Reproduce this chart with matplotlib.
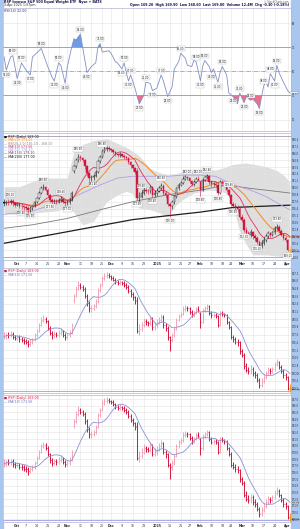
import matplotlib
matplotlib.use("Agg")
import matplotlib.pyplot as plt
import numpy as np
import pandas as pd
from matplotlib.patches import Rectangle
from matplotlib.ticker import MultipleLocator, FormatStrFormatter
import matplotlib.transforms as mtransforms

# =============================================================================
# DATA (daily bars Sep 23 2024 .. Apr 2 2025)
# =============================================================================
close = [
    177.3, 177.6, 177.5, 177.7, 177.3, 177.1, 177.2, 176.9, 176.8, 176.6,
    176.5, 176.2, 176.5, 176.8, 177.5, 178.2, 179.1, 179.9, 180.1, 179.7,
    178.7, 177.9, 177.5, 177.7, 177.6, 177.9, 178.1, 177.6, 177.3, 177.5,
    177.9, 179.1, 183.7, 184.8, 185.4, 185.1, 184.8, 183.7, 182.5, 181.7,
    181.8, 182.0, 182.8, 184.6, 185.4, 186.4, 186.7, 186.9, 186.7, 186.5,
    186.2, 185.8, 185.7, 185.8, 185.6, 185.4, 185.1, 184.4, 183.9, 183.4,
    182.8, 178.2, 178.5, 179.1, 179.7, 179.5, 179.4, 180.1, 178.8, 179.1,
    179.5, 179.9, 180.4, 179.1, 178.7, 177.2, 176.8, 177.5, 178.5, 179.9,
    180.5, 180.8, 181.6, 181.8, 181.7, 181.2, 180.6, 181.0, 181.6, 181.4,
    179.6, 181.4, 181.8, 182.0, 181.0, 180.6, 180.7, 180.5, 179.1, 181.0,
    180.8, 180.6, 179.6, 178.8, 177.2, 176.9, 176.5, 176.4, 175.0, 174.5,
    172.7, 172.1, 171.9, 172.3, 171.6, 171.3, 170.6, 169.8, 170.4, 171.0,
    171.6, 172.1, 171.9, 172.3, 173.0, 173.3, 172.6, 171.9, 171.3, 171.0,
    169.3, 169.0]
open_ = [
    177.6, 177.3, 177.6, 177.5, 177.7, 177.3, 177.1, 177.2, 176.9, 176.8,
    176.6, 176.5, 176.2, 176.5, 176.8, 177.5, 178.2, 179.1, 179.9, 180.1,
    179.7, 178.7, 177.9, 177.5, 177.7, 177.6, 177.9, 178.1, 177.6, 177.3,
    177.5, 177.9, 183.0, 183.7, 184.8, 185.4, 185.1, 184.8, 183.7, 182.5,
    181.7, 181.8, 182.0, 182.8, 184.6, 185.4, 186.4, 186.7, 186.9, 186.7,
    186.5, 186.2, 185.8, 185.7, 185.8, 185.6, 185.4, 185.1, 184.4, 183.9,
    183.4, 183.0, 178.2, 178.5, 179.1, 179.7, 179.5, 179.4, 180.1, 178.8,
    179.1, 179.5, 179.9, 180.4, 179.1, 178.7, 177.2, 176.8, 177.5, 178.5,
    179.9, 180.5, 180.8, 181.6, 181.8, 181.7, 181.2, 180.6, 181.0, 181.6,
    181.0, 179.6, 181.4, 181.8, 182.0, 181.0, 180.6, 180.7, 180.5, 179.1,
    181.0, 180.8, 180.6, 179.6, 178.8, 177.2, 176.9, 176.5, 176.4, 175.0,
    174.5, 172.7, 172.1, 171.9, 172.3, 171.6, 171.3, 170.6, 169.8, 170.4,
    171.0, 171.6, 172.1, 171.9, 172.3, 173.0, 173.3, 172.6, 171.9, 171.3,
    171.0, 169.2]
high = [
    178.0, 177.9, 178.0, 178.1, 178.0, 177.6, 177.6, 177.5, 177.3, 177.1,
    177.0, 176.8, 176.9, 177.1, 177.8, 178.5, 179.4, 180.3, 180.6, 180.4,
    179.9, 178.9, 178.2, 178.1, 178.0, 178.3, 178.6, 178.3, 177.9, 177.9,
    178.3, 179.4, 184.0, 185.2, 185.9, 185.7, 185.3, 185.0, 184.0, 182.8,
    182.2, 182.4, 183.1, 184.9, 185.7, 186.8, 187.2, 187.3, 187.2, 186.9,
    186.8, 186.4, 186.1, 186.2, 186.0, 185.9, 185.6, 185.3, 184.7, 184.2,
    183.6, 183.5, 179.2, 179.6, 180.2, 180.0, 179.8, 180.5, 180.3, 179.6,
    180.0, 180.4, 180.9, 180.6, 179.4, 178.9, 177.4, 177.9, 178.8, 180.2,
    180.9, 181.2, 182.0, 182.2, 182.0, 181.9, 181.4, 181.3, 181.9, 182.0,
    181.2, 181.7, 182.1, 182.4, 182.2, 181.3, 181.0, 181.0, 180.7, 181.3,
    181.3, 181.0, 180.8, 179.8, 179.0, 177.6, 177.3, 177.0, 176.6, 175.4,
    174.8, 173.2, 172.6, 172.8, 172.6, 172.0, 171.6, 170.9, 170.9, 171.4,
    172.0, 172.5, 172.4, 172.6, 173.4, 173.8, 173.5, 172.8, 172.2, 171.6,
    171.2, 169.9]
low = [
    176.9, 177.0, 177.1, 177.2, 176.9, 176.7, 176.8, 176.5, 176.4, 176.2,
    176.1, 175.7, 175.9, 176.2, 176.6, 177.3, 178.0, 178.9, 179.6, 179.4,
    178.4, 177.5, 177.0, 177.1, 177.2, 177.3, 177.6, 177.3, 176.8, 177.0,
    177.2, 177.7, 182.6, 183.4, 184.5, 184.7, 184.4, 183.3, 182.1, 181.2,
    181.2, 181.4, 181.8, 182.6, 184.3, 185.2, 186.1, 186.4, 186.4, 186.2,
    185.9, 185.5, 185.4, 185.4, 185.3, 185.0, 184.8, 184.1, 183.5, 183.0,
    182.4, 177.9, 177.6, 178.2, 178.8, 179.1, 179.0, 179.1, 178.4, 178.4,
    178.6, 179.2, 179.6, 178.7, 178.2, 176.8, 175.0, 176.4, 177.2, 178.3,
    179.7, 180.3, 180.6, 181.3, 181.3, 180.8, 180.3, 180.4, 180.8, 181.1,
    178.6, 179.4, 181.1, 181.5, 180.7, 180.2, 180.3, 180.2, 178.8, 178.9,
    180.5, 180.3, 179.3, 178.5, 176.9, 176.5, 176.1, 175.9, 174.6, 174.1,
    172.3, 171.7, 171.4, 171.5, 171.2, 170.8, 170.2, 169.3, 169.5, 170.1,
    170.7, 171.3, 171.5, 171.6, 172.0, 172.7, 172.3, 171.6, 170.9, 170.6,
    169.0, 168.6]

# date axis
tick_pos = [6, 10, 15, 20, 25, 29, 35, 40, 45, 49, 54, 59, 64, 70, 76, 81, 85,
            90, 95, 100, 104, 109, 114, 119, 124, 130]
tick_lab = ['Oct', '7', '14', '21', '28', 'Nov', '11', '18', '25', 'Dec', '9',
            '16', '23', '2025', '13', '21', '27', 'Feb', '10', '18', '24', 'Mar',
            '10', '17', '24', 'Apr']

# RSI(14) line vertices
rsi_idx = [0, 1, 3, 4, 6, 8, 10, 12, 13, 16, 17, 20, 22, 23, 25, 26, 28, 29, 31,
           32, 33, 35, 36, 38, 40, 42, 43, 44, 45, 48, 49, 51, 52, 54, 55, 56, 57,
           58, 60, 61, 62, 64, 65, 67, 68, 70, 72, 73, 75, 77, 78, 80, 81, 83, 84,
           86, 87, 88, 90, 91, 92, 94, 95, 96, 98, 99, 100, 102, 103, 105, 107,
           108, 110, 111, 113, 114, 116, 117, 118, 119, 120, 121, 122, 124, 125,
           126, 128, 130, 131]
rsi_val = [62, 51, 62, 63, 44, 57, 51, 47, 62, 67, 69, 54, 45, 42, 57, 55, 40, 54, 70,
           77, 76, 81, 70, 49, 54, 57, 70, 73, 66, 67, 65, 58, 57, 52, 57, 49, 42,
           47, 36, 29, 23, 30, 41, 40, 34, 36, 47, 42, 29, 37, 52, 58, 65, 61, 55,
           54, 59, 58, 42, 54, 59, 54, 49, 52, 41, 49, 54, 47, 32, 29, 23,
           32, 24, 29, 26, 27, 23, 19, 29, 38, 41, 37, 48, 42, 55,
           49, 41, 34, 32]
rsi_hi = [4, 8, 17, 25, 35, 44, 55, 58, 65, 72, 81, 88, 92, 100, 108, 113, 119, 122, 125]
rsi_lo = [1, 6, 12, 23, 28, 38, 54, 57, 62, 68, 75, 90, 95, 98, 105, 110, 117, 124]

ma50_idx = [0, 13, 29, 44, 52, 59, 67, 75, 82, 90, 97, 105, 113, 120, 128, 131]
ma50_val = [175.4, 176.0, 177.9, 180.5, 181.7, 182.0, 182.0, 182.0, 182.2, 182.2,
            182.0, 180.5, 179.6, 178.5, 176.8, 176.2]
ma150_idx = [0, 13, 29, 44, 59, 75, 90, 102, 113, 120, 131]
ma150_val = [173.0, 173.6, 174.7, 176.2, 177.6, 178.8, 179.6, 180.5, 179.9, 179.6, 179.1]
ma200_idx = [0, 29, 59, 90, 105, 131]
ma200_val = [170.4, 172.4, 174.5, 175.8, 176.6, 177.0]

# Bollinger envelope
bb_idx = [0, 7, 13, 18, 24, 29, 32, 36, 41, 47, 52, 56, 59, 62, 67, 70, 75, 79, 82,
          87, 90, 93, 97, 101, 104, 108, 111, 114, 120, 125, 128, 131]
bb_up = [180.2, 180.2, 181.1, 181.7, 181.7, 181.7, 186.3, 187.5, 188.2, 188.5, 187.7,
         187.0, 186.3, 185.5, 183.4, 182.8, 182.2, 182.5, 182.8, 183.0, 183.1, 183.1,
         183.1, 183.5, 184.0, 184.2, 184.3, 184.1, 183.7, 183.0, 182.2, 181.1]
bb_lo = [175.6, 175.3, 175.6, 175.8, 176.0, 176.5, 175.8, 173.6, 174.2, 177.6, 178.8,
         179.4, 179.0, 176.5, 176.2, 175.9, 175.0, 177.1, 178.0, 179.1, 179.3, 179.6,
         179.5, 179.2, 178.2, 172.4, 170.2, 168.4, 168.4, 168.2, 168.1, 168.1]

px_hi = [3, 18, 26, 34, 45, 63, 72, 84, 89, 93, 103, 125]
px_lo = [8, 12, 21, 29, 41, 61, 68, 76, 90, 98, 105, 110, 116, 130]

# =============================================================================
# STYLE
# =============================================================================
FRAME = '#a9c7ee'
GRID = '#e3e3e3'
SPINE = '#b4b4d0'
RED = '#d2173f'
PINK = '#f1a6b8'
FS = 2.3
TFS = 1.8

days = np.arange(len(close))
c = np.array(close)
o = np.array(open_)
h = np.array(high)
l = np.array(low)
prev = np.r_[c[0], c[:-1]]
ma10 = pd.Series(c).rolling(10, min_periods=1).mean().values
ma20 = pd.Series(c).rolling(20, min_periods=1).mean().values

fig = plt.figure(figsize=(3.0, 5.29), dpi=100, facecolor='white')
fig.patches.append(Rectangle((0, 0), 3 / 300, 1, transform=fig.transFigure,
                             color=FRAME, zorder=-5))
fig.patches.append(Rectangle((291 / 300, 0), 9 / 300, 1, transform=fig.transFigure,
                             color=FRAME, zorder=-5))


def px_axes(x0, y0, x1, y1):
    return fig.add_axes([x0 / 300, 1 - y1 / 529, (x1 - x0) / 300, (y1 - y0) / 529])


def style(ax, step, fmt):
    ax.set_xlim(-0.5, len(c) - 0.5)
    ax.set_xticks(tick_pos)
    ax.set_xticklabels([])
    ax.yaxis.tick_right()
    ax.yaxis.set_major_locator(MultipleLocator(step))
    ax.yaxis.set_major_formatter(FormatStrFormatter(fmt))
    ax.tick_params(axis='both', length=0, labelsize=TFS, pad=0.6, colors='#333333')
    ax.grid(True, color=GRID, lw=0.4)
    ax.set_axisbelow(True)
    for s in ax.spines.values():
        s.set_color(SPINE)
        s.set_linewidth(0.5)


def tag(ax, y, txt, fc):
    ax.annotate(txt, xy=(1.0, y), xycoords=('axes fraction', 'data'),
                xytext=(0.4, 0), textcoords='offset points', fontsize=1.7,
                va='center', ha='left', annotation_clip=False,
                bbox=dict(boxstyle='square,pad=0.08', fc=fc, ec='#777777', lw=0.2))


def box(ax, x, y, txt, va):
    ax.text(x, y, txt, fontsize=1.9, ha='center', va=va, color='#222222', zorder=6,
            bbox=dict(boxstyle='square,pad=0.12', fc='white', ec='#999999', lw=0.2))


def date_labels(ax):
    tr = mtransforms.blended_transform_factory(ax.transData, ax.transAxes)
    for p, t in zip(tick_pos, tick_lab):
        ax.text(p, -0.03, t, transform=tr, fontsize=FS, ha='center', va='center',
                color='#333333', fontweight='normal' if t.isdigit() and t != '2025' else 'bold')


# -----------------------------------------------------------------------------
# RSI PANEL
# -----------------------------------------------------------------------------
ax1 = px_axes(3, 8, 291, 131)
style(ax1, 20, '%d')
ax1.set_ylim(0.5, 102.5)
ax1.set_yticks([10, 30, 50, 70, 90])
ri = np.array(rsi_idx)
rv = np.array(rsi_val, dtype=float)
ax1.axhline(70, color='#9a9a9a', lw=0.6)
ax1.axhline(30, color='#9a9a9a', lw=0.6)
ax1.axhline(50, color='#9a9a9a', lw=0.5, ls='-.')
ax1.fill_between(ri, rv, 70, where=rv > 70, interpolate=True, color='#6e9be6', lw=0)
ax1.fill_between(ri, rv, 30, where=rv < 30, interpolate=True, color='#ee6d8a', lw=0)
ax1.plot(ri, rv, color='#8190c4', lw=0.6)
lookup = dict(zip(rsi_idx, rsi_val))
for i in rsi_hi:
    box(ax1, i, lookup[i] + 2, f"{lookup[i]:.2f}", 'bottom')
for i in rsi_lo:
    box(ax1, i, lookup[i] - 2, f"{lookup[i]:.2f}", 'top')
tag(ax1, rsi_val[-1], f"{rsi_val[-1]:.2f}", 'white')
ax1.text(0.004, 0.995, f"RSI(14) {rsi_val[-1]:.2f}", transform=ax1.transAxes,
         fontsize=FS, va='top', color='#333366')

# header
fig.text(4 / 300, 1 - 1.8 / 529, "RSP Invesco S&P 500 Equal Weight ETF  Nyse + BATS",
         fontsize=FS, va='center', color='#111144', fontweight='bold')
fig.text(4 / 300, 1 - 4.8 / 529, "3-Apr-2025 1:07pm", fontsize=FS, va='center',
         color='#333333')
fig.text(289 / 300, 1 - 4.8 / 529,
         f"Open {o[-1]:.2f}  High {h[-1]:.2f}  Low {l[-1]:.2f}  Last {c[-1]:.2f}  "
         f"Volume 12.4M  Chg {c[-1] - c[-2]:+.2f} ({(c[-1] / c[-2] - 1) * 100:+.2f}%)",
         fontsize=FS, va='center', ha='right', color='#111144', fontweight='bold')
fig.text(289 / 300, 1 - 1.6 / 529, "\u00a9 StockCharts.com", fontsize=1.8,
         va='center', ha='right', color='#555555')

# -----------------------------------------------------------------------------
# PRICE PANEL (candles + MAs + envelope)
# -----------------------------------------------------------------------------
ax2 = px_axes(3, 133, 291, 260)
style(ax2, 1.2, '%.1f')
ax2.set_ylim(167.5, 189.5)
ax2.fill_between(bb_idx, bb_lo, bb_up, color='#dedede', lw=0, zorder=0.5)
ax2.plot(ma200_idx, ma200_val, color='#1e1e1e', lw=0.9, zorder=2)
ax2.plot(ma150_idx, ma150_val, color='#7a7a7a', lw=0.6, zorder=2)
ax2.plot(ma50_idx, ma50_val, color='#b59be8', lw=0.6, zorder=2)
ax2.plot(days, ma20, color='#f28a25', lw=0.7, zorder=3)
ax2.plot(days, ma10, color='#e03058', lw=0.6, zorder=3)
ax2.axhline(189.05, color='#a89ab8', lw=0.6)
ax2.axhline(168.0, color='#9c9ce6', lw=0.6)

col = np.where(c < prev, RED, '#111111')
col[-1] = '#f0b020'
face = np.where(c < o, col, 'white')
ax2.vlines(days, l, h, colors=col, lw=0.4, zorder=4)
ax2.bar(days, np.maximum(np.abs(c - o), 0.08), bottom=np.minimum(c, o), width=0.7,
        color=face, edgecolor=col, lw=0.3, zorder=5)
for i in px_hi:
    box(ax2, i, h[i] + 0.4, f"{h[i]:.2f}", 'bottom')
for i in px_lo:
    box(ax2, i, l[i] - 0.4, f"{l[i]:.2f}", 'top')
tag(ax2, c[-1], f"{c[-1]:.2f}", '#f5c040')
tag(ax2, ma10[-1], f"{ma10[-1]:.2f}", '#f3a0b0')
tag(ax2, ma20[-1], f"{ma20[-1]:.2f}", '#f7c08a')

leg2 = [(f"\u25a0 RSP (Daily) {c[-1]:.2f}", '#111111'),
        (f"\u2014 MA(20) {ma20[-1]:.2f}", '#f28a25'),
        (f"\u2014 BB(20,2.0) {bb_up[-1]:.2f} - {bb_lo[-1]:.2f}", '#888888'),
        (f"\u2014 MA(10) {ma10[-1]:.2f}", '#e03058'),
        (f"\u2014 MA(50) {ma50_val[-1]:.2f}", '#b59be8'),
        (f"\u2014 MA(150) {ma150_val[-1]:.2f}", '#555555'),
        (f"\u2014 MA(200) {ma200_val[-1]:.2f}", '#111111')]
for k, (t, cc) in enumerate(leg2):
    ax2.text(0.004, 0.985 - k * 0.026, t, transform=ax2.transAxes, fontsize=FS,
             va='top', color=cc)
date_labels(ax2)


# -----------------------------------------------------------------------------
# BAR PANELS
# -----------------------------------------------------------------------------
def bar_panel(ax, ylim, step, name):
    style(ax, step, '%.1f')
    ax.set_ylim(*ylim)
    bc = np.where(c < prev, RED, PINK)
    bc[-1] = '#f0a020'
    ax.vlines(days, l, h, colors=bc, lw=0.7, zorder=4)
    ax.hlines(o, days - 0.45, days, colors=bc, lw=0.5, zorder=4)
    ax.hlines(c, days, days + 0.45, colors=bc, lw=0.5, zorder=4)
    ax.plot(days, ma10, color='#8c92d4', lw=0.6, zorder=5)
    ax.axhline(ylim[0] + 0.35, color='#9c9ce6', lw=0.6)
    tag(ax, ma10[-1], f"{ma10[-1]:.2f}", 'white')
    tag(ax, c[-1], f"{c[-1]:.2f}", '#f5b040')
    ax.text(0.004, 0.99, f"\u25a0 {name} (Daily) {c[-1]:.2f}", transform=ax.transAxes,
            fontsize=FS, va='top', color=RED)
    ax.text(0.004, 0.963, f"\u2014 MA(10) {ma10[-1]:.2f}", transform=ax.transAxes,
            fontsize=FS, va='top', color='#6a70c0')


ax3 = px_axes(3, 268, 291, 393)
bar_panel(ax3, (168.5, 188.0), 1.2, 'RSP')
ax4 = px_axes(3, 395, 291, 522)
bar_panel(ax4, (168.6, 187.6), 1.0, 'RSP')
date_labels(ax4)

fig.savefig("out.png", dpi=100, facecolor='white')
